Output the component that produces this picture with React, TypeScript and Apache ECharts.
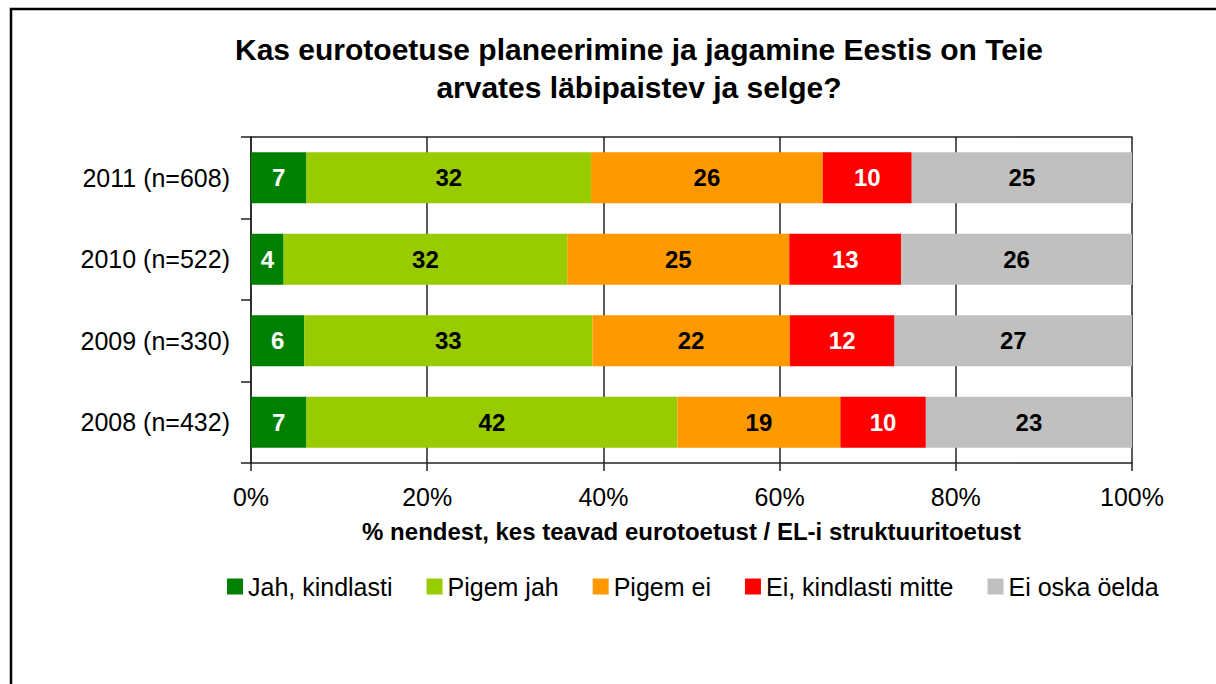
import React, { useEffect, useRef } from "react";
import * as echarts from "echarts";

const categories = ["2008 (n=432)", "2009 (n=330)", "2010 (n=522)", "2011 (n=608)"];
const seriesNames = ["Jah, kindlasti", "Pigem jah", "Pigem ei", "Ei, kindlasti mitte", "Ei oska öelda"];
const colors = ["#008000", "#99CC00", "#FF9900", "#FF0000", "#C0C0C0"];
const labelColors = ["#ffffff", "#000000", "#000000", "#ffffff", "#000000"];

// bar lengths (% of respondents)
const jahKindlasti = [6.3, 6.05, 3.7, 6.3];
const pigemJah = [42.1, 32.7, 32.2, 32.3];
const pigemEi = [18.5, 22.4, 25.2, 26.3];
const eiKindlastiMitte = [9.7, 11.9, 12.7, 10.1];
const eiOska = [23.4, 26.95, 26.2, 25.0];

// printed labels on the bars
const jahKindlastiLabels = [7, 6, 4, 7];
const pigemJahLabels = [42, 33, 32, 32];
const pigemEiLabels = [19, 22, 25, 26];
const eiKindlastiMitteLabels = [10, 12, 13, 10];
const eiOskaLabels = [23, 27, 26, 25];

const xTicks = [0, 20, 40, 60, 80, 100];

const seriesValues = [jahKindlasti, pigemJah, pigemEi, eiKindlastiMitte, eiOska];
const seriesLabels = [jahKindlastiLabels, pigemJahLabels, pigemEiLabels, eiKindlastiMitteLabels, eiOskaLabels];

const FONT = "'Liberation Sans', Arial, sans-serif";

export default function App() {
  const ref = useRef<HTMLDivElement>(null);
  useEffect(() => {
    if (!ref.current) return;
    const chart = echarts.init(ref.current, null, { renderer: "svg" });
    const option: any = {
      animation: false,
      backgroundColor: "#ffffff",
      textStyle: { fontFamily: FONT },
      title: {
        text: "Kas eurotoetuse planeerimine ja jagamine Eestis on Teie\narvates läbipaistev ja selge?",
        left: 634,
        top: 25,
        textAlign: "center",
        textStyle: { fontFamily: FONT, fontSize: 30, fontWeight: "bold", color: "#000", lineHeight: 38 },
      },
      legend: {
        data: seriesNames,
        bottom: 80,
        left: 222,
        icon: "rect",
        itemWidth: 16,
        itemHeight: 16,
        itemGap: 34,
        textStyle: { fontFamily: FONT, fontSize: 25, color: "#000" },
      },
      graphic: [
        {
          type: "rect",
          shape: { x: 11, y: 9, width: 1400, height: 900 },
          style: { fill: "none", stroke: "#000", lineWidth: 2.5 },
          silent: true,
          z: 100,
        },
      ],
      grid: { left: 251, right: 84, top: 137, bottom: 221, containLabel: false },
      xAxis: [
        {
          type: "value",
          min: 0,
          max: 100,
          interval: 20,
          axisLine: { show: true, lineStyle: { color: "#222", width: 1.5 } },
          axisTick: { show: true, length: 8, lineStyle: { color: "#222", width: 1.5 } },
          splitLine: { show: true, lineStyle: { color: "#222", width: 1.5 } },
          axisLabel: {
            fontFamily: FONT,
            fontSize: 25,
            color: "#000",
            margin: 21,
            formatter: (v: number) => (xTicks.includes(v) ? v + "%" : ""),
          },
          name: "% nendest, kes teavad eurotoetust / EL-i struktuuritoetust",
          nameLocation: "middle",
          nameGap: 56,
          nameTextStyle: { fontFamily: FONT, fontSize: 24, fontWeight: "bold", color: "#000" },
        },
        {
          type: "value",
          position: "top",
          min: 0,
          max: 100,
          interval: 20,
          axisLine: { show: true, onZero: false, lineStyle: { color: "#222", width: 1.5 } },
          axisTick: { show: false },
          axisLabel: { show: false },
          splitLine: { show: false },
        },
      ],
      yAxis: {
        type: "category",
        data: categories,
        axisLine: { show: true, lineStyle: { color: "#222", width: 1.5 } },
        axisTick: { show: true, length: 10, lineStyle: { color: "#222", width: 1.5 } },
        axisLabel: { fontFamily: FONT, fontSize: 25, color: "#000", margin: 21 },
      },
      series: seriesNames.map((name, i) => ({
        name,
        type: "bar",
        stack: "total",
        barWidth: 51,
        data: seriesValues[i],
        itemStyle: { color: colors[i] },
        label: {
          show: true,
          position: "inside",
          fontFamily: FONT,
          fontSize: 24,
          fontWeight: "bold",
          color: labelColors[i],
          formatter: (p: any) => String(seriesLabels[i][p.dataIndex]),
        },
      })),
    };
    chart.setOption(option);
    return () => chart.dispose();
  }, []);
  return (
    <div
      ref={ref}
      style={{ position: "fixed", left: 0, top: 0, width: 1216, height: 684, background: "#fff" }}
    />
  );
}
